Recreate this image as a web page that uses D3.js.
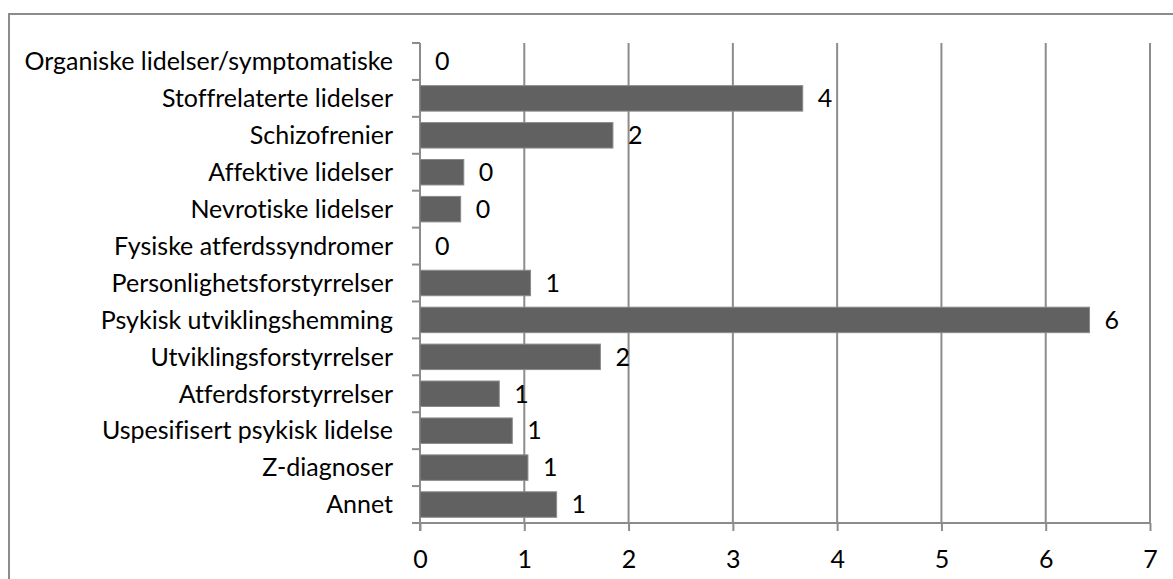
<!DOCTYPE html>
<meta charset="utf-8">
<style>
  body { margin: 0; background: #fff; }
  svg text { font-family: Lato, "Open Sans", sans-serif; font-size: 25px; fill: #000; font-variant-ligatures: none; }
  .grid line { stroke: #8c8c8c; stroke-width: 2px; }
  .axis path, .axis line { stroke: #8c8c8c; stroke-width: 2px; }
  .bar { fill: #616161; stroke: #8a8a8a; stroke-width: 1px; }
</style>
<body>
<script src="https://d3js.org/d3.v7.min.js"></script>
<script>
  // categories top to bottom
  var categories = [
    "Organiske lidelser/symptomatiske",
    "Stoffrelaterte lidelser",
    "Schizofrenier",
    "Affektive lidelser",
    "Nevrotiske lidelser",
    "Fysiske atferdssyndromer",
    "Personlighetsforstyrrelser",
    "Psykisk utviklingshemming",
    "Utviklingsforstyrrelser",
    "Atferdsforstyrrelser",
    "Uspesifisert psykisk lidelse",
    "Z-diagnoser",
    "Annet"
  ];
  // bar lengths
  var values = [0, 3.67, 1.85, 0.42, 0.39, 0, 1.06, 6.42, 1.73, 0.76, 0.885, 1.035, 1.31];
  // the labels show the values rounded
  var labels = ["0", "4", "2", "0", "0", "0", "1", "6", "2", "1", "1", "1", "1"];
  var xTicks = [0, 1, 2, 3, 4, 5, 6, 7];

  var W = 1173, H = 579;
  var margin = { top: 43, right: 23, bottom: 56, left: 420 };

  var svg = d3.select("body").append("svg")
    .attr("width", W)
    .attr("height", H);

  // outer chart border (runs off the right and bottom edge)
  svg.append("rect")
    .attr("x", 9).attr("y", 14)
    .attr("width", W).attr("height", H)
    .attr("fill", "none")
    .attr("stroke", "#8c8c8c")
    .attr("stroke-width", 2);

  var x = d3.scaleLinear().domain([0, 7]).range([margin.left, W - margin.right]);
  var y = d3.scaleBand().domain(categories).range([margin.top, H - margin.bottom]).paddingInner(0.31).paddingOuter(0.155);
  var step = y.step();
  var y0 = H - margin.bottom;

  // vertical gridlines
  svg.append("g").attr("class", "grid")
    .selectAll("line")
    .data(xTicks.slice(1))
    .enter().append("line")
    .attr("x1", function (d) { return x(d); })
    .attr("x2", function (d) { return x(d); })
    .attr("y1", margin.top)
    .attr("y2", y0);

  // x axis
  var xAxis = svg.append("g").attr("class", "axis")
    .attr("transform", "translate(0," + y0 + ")")
    .call(d3.axisBottom(x).tickValues(xTicks).tickFormat(d3.format("d")).tickSize(8).tickSizeOuter(0).tickPadding(19));
  xAxis.select(".domain").attr("d", "M" + (margin.left - 8) + ",0H" + x(7));

  // y axis line and ticks at band boundaries
  var yg = svg.append("g").attr("class", "axis");
  yg.append("line")
    .attr("x1", margin.left).attr("x2", margin.left)
    .attr("y1", margin.top).attr("y2", y0 + 8);
  yg.selectAll(".tk")
    .data(d3.range(categories.length))
    .enter().append("line")
    .attr("x1", margin.left - 8).attr("x2", margin.left)
    .attr("y1", function (i) { return margin.top + i * step; })
    .attr("y2", function (i) { return margin.top + i * step; });

  // category labels
  svg.append("g").selectAll("text")
    .data(categories)
    .enter().append("text")
    .attr("x", margin.left - 27)
    .attr("y", function (d) { return y(d) + y.bandwidth() / 2; })
    .attr("dy", "0.35em")
    .attr("text-anchor", "end")
    .text(function (d) { return d; });

  // bars (zero values draw nothing)
  svg.append("g").selectAll("rect")
    .data(categories)
    .enter().append("rect")
    .attr("class", "bar")
    .attr("x", x(0))
    .attr("y", function (d) { return y(d); })
    .attr("width", function (d, i) { return x(values[i]) - x(0); })
    .attr("height", y.bandwidth())
    .style("display", function (d, i) { return values[i] > 0 ? null : "none"; });

  // value labels
  svg.append("g").selectAll("text")
    .data(values)
    .enter().append("text")
    .attr("x", function (d) { return x(d) + 15; })
    .attr("y", function (d, i) { return y(categories[i]) + y.bandwidth() / 2; })
    .attr("dy", "0.35em")
    .text(function (d, i) { return labels[i]; });
</script>
</body>
